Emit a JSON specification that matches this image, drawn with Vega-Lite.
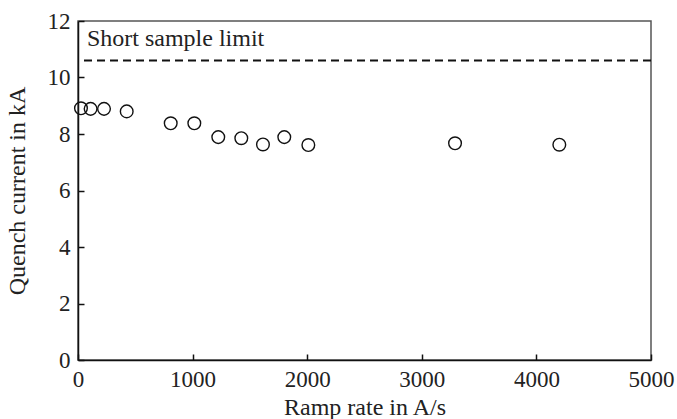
{
  "$schema": "https://vega.github.io/schema/vega-lite/v6.json",
  "width": 573,
  "height": 339,
  "autosize": {"type": "none"},
  "padding": {"left": 78, "top": 21, "right": 26, "bottom": 59},
  "config": {
    "font": "Liberation Serif",
    "view": {"stroke": "#555", "strokeWidth": 1.5},
    "axis": {
      "labelFont": "Liberation Serif",
      "titleFont": "Liberation Serif",
      "labelFontSize": 23,
      "titleFontSize": 24,
      "titleFontWeight": "normal",
      "labelColor": "#222",
      "titleColor": "#222",
      "domainColor": "#111",
      "domainWidth": 1.5,
      "tickColor": "#111",
      "tickSize": -6,
      "tickWidth": 1.5,
      "grid": false,
      "format": "d",
      "labelFlush": false,
      "labelOverlap": false
    }
  },
  "datasets": {
    "points": [
      {"rate": 26, "current": 8.91},
      {"rate": 110, "current": 8.89},
      {"rate": 227, "current": 8.89},
      {"rate": 425, "current": 8.80},
      {"rate": 809, "current": 8.38},
      {"rate": 1015, "current": 8.38},
      {"rate": 1224, "current": 7.89},
      {"rate": 1425, "current": 7.85},
      {"rate": 1614, "current": 7.63},
      {"rate": 1800, "current": 7.89},
      {"rate": 2010, "current": 7.61},
      {"rate": 3290, "current": 7.67},
      {"rate": 4200, "current": 7.62}
    ],
    "limit": [{"current": 10.6, "rate": 78, "label": "Short sample limit", "ly": 11.13}]
  },
  "layer": [
    {
      "data": {"name": "limit"},
      "mark": {"type": "rule", "stroke": "#111", "strokeWidth": 2, "strokeDash": [8, 5]},
      "encoding": {"y": {"field": "current", "type": "quantitative", "scale": {"domain": [0, 12]}}}
    },
    {
      "data": {"name": "limit"},
      "mark": {"type": "text", "align": "left", "baseline": "alphabetic", "fontSize": 24, "font": "Liberation Serif", "color": "#222"},
      "encoding": {
        "x": {"field": "rate", "type": "quantitative"},
        "y": {"field": "ly", "type": "quantitative"},
        "text": {"field": "label"}
      }
    },
    {
      "data": {"name": "points"},
      "mark": {"type": "point", "shape": "circle", "size": 160, "filled": false, "stroke": "#111", "strokeWidth": 1.4, "opacity": 1},
      "encoding": {
        "x": {
          "field": "rate", "type": "quantitative",
          "scale": {"domain": [0, 5000], "nice": false},
          "axis": {"values": [0, 1000, 2000, 3000, 4000, 5000], "format": "d", "title": "Ramp rate in A/s", "labelPadding": 14, "titlePadding": 4, "labelFlush": false}
        },
        "y": {
          "field": "current", "type": "quantitative",
          "scale": {"domain": [0, 12], "nice": false},
          "axis": {"values": [0, 2, 4, 6, 8, 10, 12], "format": "d", "title": "Quench current in kA", "labelPadding": 14, "titlePadding": 18, "labelFlush": false}
        }
      }
    }
  ]
}
